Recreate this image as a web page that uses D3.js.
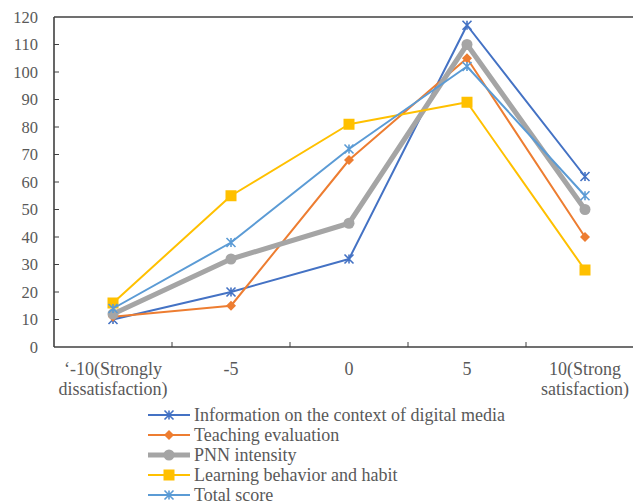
<!DOCTYPE html>
<html>
<head>
<meta charset="utf-8">
<script src="https://cdn.jsdelivr.net/npm/d3@7"></script>
<style>
  html, body { margin: 0; padding: 0; background: #fff; }
  svg { display: block; }
</style>
</head>
<body>
<svg id="chart" width="633" height="504"></svg>
<script>
// Satisfaction levels (x categories), each label split into lines
const categories = ["-10", "-5", "0", "5", "10"];
const categoryLabels = [
  ["\u2018-10(Strongly", "dissatisfaction)"],
  ["-5"],
  ["0"],
  ["5"],
  ["10(Strong", "satisfaction)"]
];
const yTicks = [0, 10, 20, 30, 40, 50, 60, 70, 80, 90, 100, 110, 120];

const seriesNames = [
  "Information on the context of digital media",
  "Teaching evaluation",
  "PNN intensity",
  "Learning behavior and habit",
  "Total score"
];
const infoValues     = [10, 20, 32, 117, 62];
const teachingValues = [11, 15, 68, 105, 40];
const pnnValues      = [12, 32, 45, 110, 50];
const learningValues = [16, 55, 81, 89, 28];
const totalValues    = [14, 38, 72, 102, 55];

const seriesColors = ["#4472C4", "#ED7D31", "#A5A5A5", "#FFC000", "#5B9BD5"];
const seriesMarkers = ["star", "diamond", "circle", "square", "star"];
const seriesWidths = [2, 2, 5, 2, 2];

const seriesValues = [infoValues, teachingValues, pnnValues, learningValues, totalValues];

const FONT = "'Liberation Serif', 'DejaVu Serif', serif";
const TEXT_COLOR = "#595959";

const svg = d3.select("#chart");
const plotLeft = 54, plotRight = 644, plotTop = 17, plotBottom = 347;

const xBand = d3.scaleBand().domain(categories).range([plotLeft, plotRight]).padding(0);
const x = d3.scalePoint().domain(categories).range([plotLeft, plotRight]).padding(0.5);
const y = d3.scaleLinear().domain([0, 120]).range([plotBottom, plotTop]);

const axisColor = "#404040";

// Y axis: labels, inward ticks
const yAxis = svg.append("g");
yAxis.selectAll("text").data(yTicks).join("text")
  .attr("x", 38).attr("y", d => y(d))
  .attr("dy", "0.35em")
  .attr("text-anchor", "end")
  .attr("font-family", FONT).attr("fill", TEXT_COLOR)
  .attr("font-size", 16.5)
  .text(d => d);
yAxis.selectAll("line.tick").data(yTicks.filter(d => d > 0 && d < 120)).join("line")
  .attr("class", "tick")
  .attr("x1", plotLeft).attr("x2", plotLeft + 5)
  .attr("y1", d => y(d)).attr("y2", d => y(d))
  .attr("stroke", axisColor).attr("stroke-width", 1);

// Frame: left axis, top border, bottom axis
svg.append("line").attr("x1", plotLeft).attr("x2", plotLeft).attr("y1", plotTop).attr("y2", plotBottom)
  .attr("stroke", axisColor).attr("stroke-width", 1.6);
svg.append("line").attr("x1", plotLeft).attr("x2", 633).attr("y1", plotTop).attr("y2", plotTop)
  .attr("stroke", axisColor).attr("stroke-width", 1.6);
svg.append("line").attr("x1", plotLeft).attr("x2", 633).attr("y1", plotBottom).attr("y2", plotBottom)
  .attr("stroke", axisColor).attr("stroke-width", 1.6);

// X ticks at category boundaries
const boundaries = categories.slice(1).map(c => xBand(c));
svg.selectAll("line.xtick").data(boundaries).join("line")
  .attr("class", "xtick")
  .attr("x1", d => d).attr("x2", d => d)
  .attr("y1", plotBottom).attr("y2", plotBottom - 5)
  .attr("stroke", axisColor).attr("stroke-width", 1);

// X category labels
const xLab = svg.append("g");
categories.forEach((c, i) => {
  const t = xLab.append("text")
    .attr("x", x(c)).attr("y", 375)
    .attr("text-anchor", "middle")
    .attr("font-family", FONT).attr("fill", TEXT_COLOR)
    .attr("font-size", 18);
  categoryLabels[i].forEach((line, j) => {
    t.append("tspan").attr("x", x(c)).attr("dy", j === 0 ? 0 : 20).text(line);
  });
});

// Marker drawing
function drawMarker(g, type, color, cx, cy) {
  if (type === "star") {
    const r = 4.5;
    const p = `M${cx},${cy - r}L${cx},${cy + r}` +
      `M${cx - r},${cy - r}L${cx + r},${cy + r}` +
      `M${cx - r},${cy + r}L${cx + r},${cy - r}`;
    g.append("path").attr("d", p).attr("stroke", color).attr("stroke-width", 1.6).attr("fill", "none");
  } else if (type === "diamond") {
    const r = 5;
    g.append("path").attr("d", `M${cx},${cy - r}L${cx + r},${cy}L${cx},${cy + r}L${cx - r},${cy}Z`)
      .attr("fill", color);
  } else if (type === "circle") {
    g.append("circle").attr("cx", cx).attr("cy", cy).attr("r", 5.5).attr("fill", color);
  } else if (type === "square") {
    g.append("rect").attr("x", cx - 5.5).attr("y", cy - 5.5).attr("width", 11).attr("height", 11)
      .attr("fill", color);
  }
}

// Series lines and markers
const line = d3.line().x((d, i) => x(categories[i])).y(d => y(d));
seriesValues.forEach((vals, s) => {
  const g = svg.append("g");
  g.append("path").datum(vals)
    .attr("d", line)
    .attr("fill", "none")
    .attr("stroke", seriesColors[s])
    .attr("stroke-width", seriesWidths[s])
    .attr("stroke-linejoin", "round");
  vals.forEach((v, i) => drawMarker(g, seriesMarkers[s], seriesColors[s], x(categories[i]), y(v)));
});

// Legend
const legendY = [415, 435, 455, 475, 495];
seriesNames.forEach((name, s) => {
  const g = svg.append("g");
  const ly = legendY[s];
  g.append("line").attr("x1", 148).attr("x2", 190).attr("y1", ly).attr("y2", ly)
    .attr("stroke", seriesColors[s]).attr("stroke-width", seriesWidths[s]);
  drawMarker(g, seriesMarkers[s], seriesColors[s], 169, ly);
  g.append("text").attr("x", 194).attr("y", ly).attr("dy", "0.35em")
    .attr("font-family", FONT).attr("fill", TEXT_COLOR)
    .attr("font-size", 18).text(name);
});
</script>
</body>
</html>
